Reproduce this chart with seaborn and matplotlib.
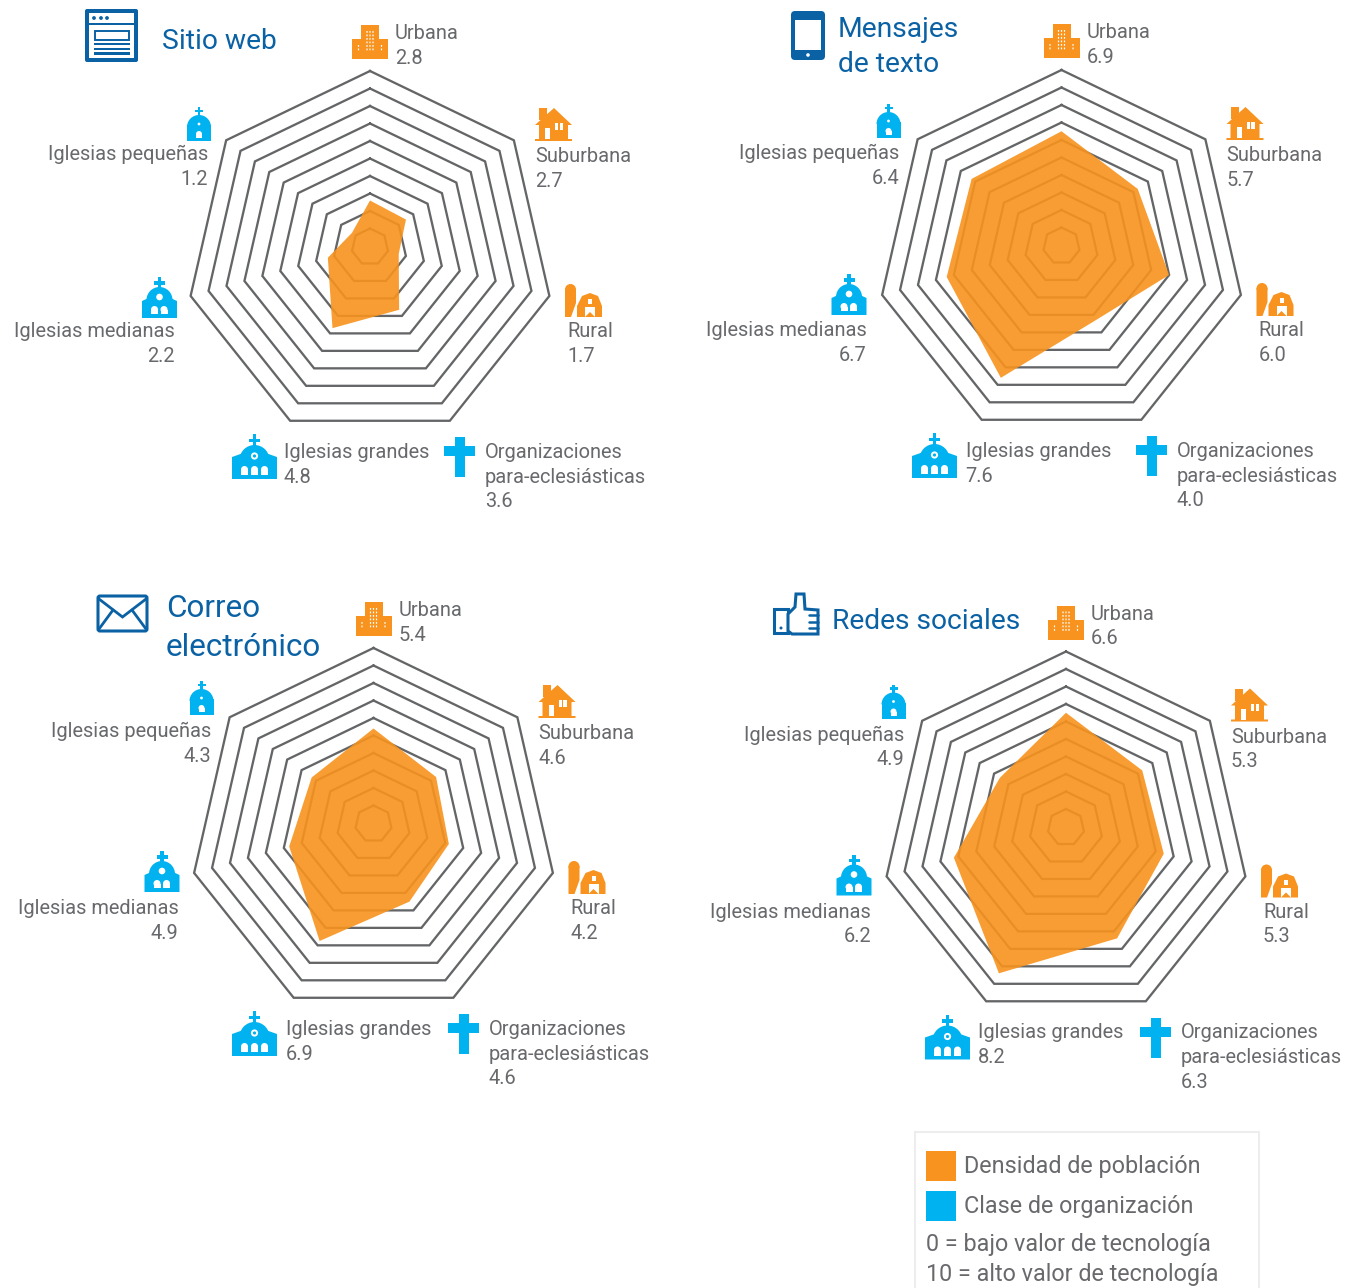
import numpy as np
import pandas as pd
import seaborn as sns
import matplotlib
matplotlib.use("Agg")
import matplotlib.pyplot as plt
from matplotlib.patches import Rectangle, Circle, Polygon, FancyBboxPatch, Wedge

# data: values as printed next to each axis
axis_names = ["Urbana", "Suburbana", "Rural", "Organizaciones\npara-eclesiásticas",
              "Iglesias grandes", "Iglesias medianas", "Iglesias pequeñas"]
web_values = [2.8, 2.7, 1.7, 3.6, 4.8, 2.2, 1.2]
text_values = [6.9, 5.7, 6.0, 4.0, 7.6, 6.7, 6.4]
email_values = [5.4, 4.6, 4.2, 4.6, 6.9, 4.9, 4.3]
social_values = [6.6, 5.3, 5.3, 6.3, 8.2, 6.2, 4.9]

# the orange shapes do not quite follow the printed numbers, these are read off the rings
web_shape = [2.6, 2.5, 1.6, 3.65, 4.7, 2.35, 1.25]
text_shape = [6.5, 5.3, 6.0, 4.3, 7.6, 6.4, 6.25]
email_shape = [5.4, 4.35, 4.2, 4.5, 6.75, 4.7, 4.3]
social_shape = [6.5, 5.3, 5.45, 6.4, 8.4, 6.25, 4.6]

ring_levels = [1, 2, 3, 4, 5, 6, 7, 8, 9, 10]
legend_labels = ["Densidad de población", "Clase de organización"]
legend_notes = ["0 = bajo valor de tecnología", "10 = alto valor de tecnología"]

W, H = 1353, 1288
ORANGE = "#F7931E"
CYAN = "#00B3F0"
BLUE = "#0A62A4"
GREY = "#67696C"
RING = "#636567"
FONT = "Roboto"
PX = 18.4      # pixels per value unit
LAG = 0.0489   # the rings grow from a point a little above the heptagon centre

sns.set_theme(style="white")
plt.rcParams["font.family"] = FONT

fig = plt.figure(figsize=(W / 100, H / 100), dpi=100, facecolor="white")

# overlay in pixel coordinates for text, icons and legend
top = fig.add_axes([0, 0, 1, 1], zorder=5)
top.set_xlim(0, W)
top.set_ylim(H, 0)
top.axis("off")
top.patch.set_alpha(0)

theta = np.arange(7) * 2 * np.pi / 7
ux = np.sin(theta)
uy = np.cos(theta) - LAG


def radar(values, ox, oy):
    lim = 10.6
    ax = fig.add_axes([(ox - lim * PX) / W, 1 - (oy + lim * PX) / H,
                       2 * lim * PX / W, 2 * lim * PX / H])
    rows = []
    for lev in ring_levels:
        for k in list(range(7)) + [0]:
            rows.append({"level": lev, "order": len(rows), "x": lev * ux[k], "y": lev * uy[k]})
    rings = pd.DataFrame(rows)
    sns.lineplot(data=rings, x="x", y="y", units="level", estimator=None, sort=False,
                 color=RING, linewidth=1.65, legend=False, ax=ax,
                 solid_joinstyle="miter", solid_capstyle="projecting")
    v = np.array(values)
    ax.fill(v * ux, v * uy, color=ORANGE, alpha=0.9, linewidth=0, zorder=3)
    ax.set_xlim(-lim, lim)
    ax.set_ylim(-lim, lim)
    ax.axis("off")


def rect(x0, y0, x1, y1, c, snap=None):
    top.add_patch(Rectangle((x0, y0), x1 - x0, y1 - y0, fc=c, ec="none", snap=snap))


def poly(pts, c, **kw):
    top.add_patch(Polygon(pts, closed=True, fc=c, ec="none", **kw))


def circle(x, y, r, c):
    top.add_patch(Circle((x, y), r, fc=c, ec="none"))


def arch_door(x, w, y0, y1):
    rect(x - w / 2, y0 + w / 2, x + w / 2, y1, "white")
    circle(x, y0 + w / 2, w / 2, "white")


def building(ox, oy):
    x, y = ox - 18, oy - 221
    rect(x + 9, y, x + 27, y + 34, ORANGE)
    rect(x, y + 14, x + 36, y + 34, ORANGE)
    # little windows, left unsnapped or they vanish at some positions
    for dx in (15, 18, 21):
        for dy in (6, 9.5, 13, 16.5, 20, 23.5):
            rect(x + dx - .6, y + dy, x + dx + .6, y + dy + 1.8, "white", snap=False)
    for dx in (6.5, 29.5):
        for dy in (20, 23.5):
            rect(x + dx - .6, y + dy, x + dx + .6, y + dy + 1.8, "white", snap=False)


def house(ox, oy):
    x, y = ox + 165, oy - 138
    rect(x + 4, y, x + 12, y + 12, ORANGE)
    poly([(x + 19, y), (x + 37, y + 17), (x + 33, y + 17), (x + 33, y + 31), (x + 37, y + 31),
          (x + 37, y + 33), (x, y + 33), (x, y + 31), (x + 4, y + 31), (x + 4, y + 17), (x, y + 17)], ORANGE)
    rect(x + 10, y + 20, x + 15, y + 31, "white")
    rect(x + 20, y + 15, x + 28, y + 22, "white")
    rect(x + 23.4, y + 15, x + 24.6, y + 22, ORANGE)


def barn(ox, oy):
    x, y = ox + 195, oy + 38
    circle(x + 5.5, y + 5.5, 5.5, ORANGE)
    poly([(x, y + 5), (x + 11, y + 5), (x + 11, y + 19), (x + 6, y + 33), (x, y + 33)], ORANGE)
    poly([(x + 25, y + 9), (x + 33, y + 12), (x + 37, y + 22), (x + 37, y + 33), (x + 12, y + 33),
          (x + 12, y + 22), (x + 17, y + 12)], ORANGE)
    rect(x + 20, y + 23, x + 30, y + 33, "white")
    poly([(x + 20, y + 33), (x + 25, y + 28), (x + 30, y + 33)], ORANGE)
    rect(x + 23, y + 15, x + 27, y + 20, "white")


def church_small(ox, oy):
    cx, y = ox - 171, oy - 139
    rect(cx - 1.3, y, cx + 1.3, y + 10, CYAN)
    rect(cx - 4, y + 2.8, cx + 4, y + 5.2, CYAN)
    top.add_patch(Wedge((cx, y + 20), 12, 180, 360, fc=CYAN, ec="none"))
    rect(cx - 12, y + 18, cx + 12, y + 34, CYAN)
    circle(cx, y + 17, 1.4, "white")
    arch_door(cx, 6, y + 24, y + 31)


def church_mid(ox, oy):
    cx, y = ox - 210.5, oy + 31
    rect(cx - 1.7, y, cx + 1.7, y + 13, CYAN)
    rect(cx - 5.5, y + 4, cx + 5.5, y + 7.5, CYAN)
    top.add_patch(Wedge((cx, y + 23), 13, 180, 360, fc=CYAN, ec="none"))
    poly([(cx - 17.5, y + 24), (cx, y + 16), (cx + 17.5, y + 24), (cx + 17.5, y + 41), (cx - 17.5, y + 41)], CYAN)
    circle(cx, y + 20, 3.3, "white")
    arch_door(cx - 5, 7, y + 29, y + 37)
    arch_door(cx + 4.5, 7, y + 29, y + 37)


def church_big(ox, oy):
    cx, y = ox - 115.5, oy + 188
    rect(cx - 1.8, y, cx + 1.8, y + 14, CYAN)
    rect(cx - 5.5, y + 4.5, cx + 5.5, y + 8, CYAN)
    top.add_patch(Wedge((cx, y + 26), 15, 180, 360, fc=CYAN, ec="none"))
    poly([(cx - 22.5, y + 23), (cx - 14, y + 20), (cx + 14, y + 20), (cx + 22.5, y + 23),
          (cx + 22.5, y + 45), (cx - 22.5, y + 45)], CYAN)
    circle(cx, y + 22, 3.6, "white")
    circle(cx, y + 22, 1.6, CYAN)
    for dx in (-10, 0, 10):
        arch_door(cx + dx, 7, y + 32, y + 41)


def cross(ox, oy):
    x, y = ox + 74, oy + 191
    rect(x + 11, y, x + 21, y + 40, CYAN)
    rect(x, y + 9, x + 31, y + 19, CYAN)


def labels(values, ox, oy, left=(0, 0), big_text=0, big_icon=0):
    fs = 14.45
    spots = [(25, -212.5, "left"), (165, -89.5, "left"), (197, 85.5, "left"), (115, 206.5, "left"),
             (-86 + big_text, 206.5, "left"), (-195, 85.5, "right"), (-162, -91.5, "right")]
    for name, val, (dx, dy, ha) in zip(axis_names, values, spots):
        lines = name.split("\n") + [f"{val:.1f}"]
        for i, s in enumerate(lines):
            top.text(ox + dx, oy + dy + i * 24.7, s, fontsize=fs, color=GREY, ha=ha, va="center")
    building(ox, oy)
    house(ox, oy)
    barn(ox, oy)
    church_small(ox + left[0], oy + left[1])
    church_mid(ox + left[0], oy + left[1])
    church_big(ox + big_icon, oy)
    cross(ox, oy)


def title(x, ys, lines, fs=20.3):
    for y, s in zip(ys, lines):
        top.text(x, y, s, fontsize=fs, color=BLUE, ha="left", va="center")


def icon_browser():
    top.add_patch(FancyBboxPatch((87, 11), 49, 49, boxstyle="round,pad=2,rounding_size=2", fc=BLUE, ec="none"))
    rect(89, 13, 134, 23, "white")
    rect(89, 25, 134, 58, "white")
    for x in (94, 101, 107):
        circle(x, 18, 1.9, BLUE)
    top.add_patch(Rectangle((95, 31), 34, 9, fc="white", ec=BLUE, lw=1.4))
    for y in (42.5, 47.5, 52):
        rect(94, y, 130, y + 2.6, BLUE)


def icon_phone():
    top.add_patch(FancyBboxPatch((794, 14), 28, 43, boxstyle="round,pad=3,rounding_size=4", fc=BLUE, ec="none"))
    rect(795, 20, 821, 50, "white")
    circle(808, 55, 1.8, "white")


def icon_mail():
    top.add_patch(FancyBboxPatch((99, 597), 47, 33, boxstyle="round,pad=1,rounding_size=2",
                                 fc="white", ec=BLUE, lw=2.2))
    top.plot([99, 122.5, 146], [599, 617, 599], color=BLUE, lw=2, solid_joinstyle="miter")
    top.plot([99, 113], [629, 610], color=BLUE, lw=2)
    top.plot([146, 132], [629, 610], color=BLUE, lw=2)


def icon_thumb():
    top.add_patch(Polygon([(774, 609), (788, 609), (788, 633), (774, 633)], closed=True,
                          fc="white", ec=BLUE, lw=2.2))
    top.add_patch(Polygon([(788, 614), (795, 607), (796, 594), (804, 594), (805, 609), (818, 610),
                           (818, 634), (792, 634), (788, 631)], closed=True, fc="white", ec=BLUE, lw=2.2))
    for y in (615, 622, 628):
        top.plot([809, 818], [y, y], color=BLUE, lw=1.8)
    circle(781, 628, 1.5, BLUE)


# the four charts
radar(web_shape, 370, 246)
radar(text_shape, 1061.5, 245)
radar(email_shape, 373.5, 823)
radar(social_shape, 1066, 826.5)

labels(web_values, 370, 246)
labels(text_values, 1061.5, 245, left=(-2, -2), big_text=-10, big_icon=-11.5)
labels(email_values, 373.5, 823, left=(-1, -3), big_text=-1.5, big_icon=-3.5)
labels(social_values, 1066, 826.5, left=(-1.5, -3), big_text=-2, big_icon=-3)

title(162, [41.5], ["Sitio web"])
title(838, [29.5, 64.5], ["Mensajes", "de texto"])
title(166, [608.5, 647.5], ["Correo", "electrónico"], fs=22.6)
title(832, [621.5], ["Redes sociales"])
icon_browser()
icon_phone()
icon_mail()
icon_thumb()

# legend box, runs off the bottom edge
top.add_patch(Rectangle((914.5, 1132), 344.5, 170, fc="white", ec="#EDEDED", lw=1.5, clip_on=True))
rect(926, 1151, 956, 1181, ORANGE)
rect(926, 1191, 956, 1221, CYAN)
top.text(964, 1166, legend_labels[0], fontsize=16.8, color=GREY, va="center")
top.text(964, 1206, legend_labels[1], fontsize=16.8, color=GREY, va="center")
top.text(926, 1245, legend_notes[0], fontsize=16.8, color=GREY, va="center")
top.text(926, 1274, legend_notes[1], fontsize=16.8, color=GREY, va="center")

fig.savefig("out.png", dpi=100)
